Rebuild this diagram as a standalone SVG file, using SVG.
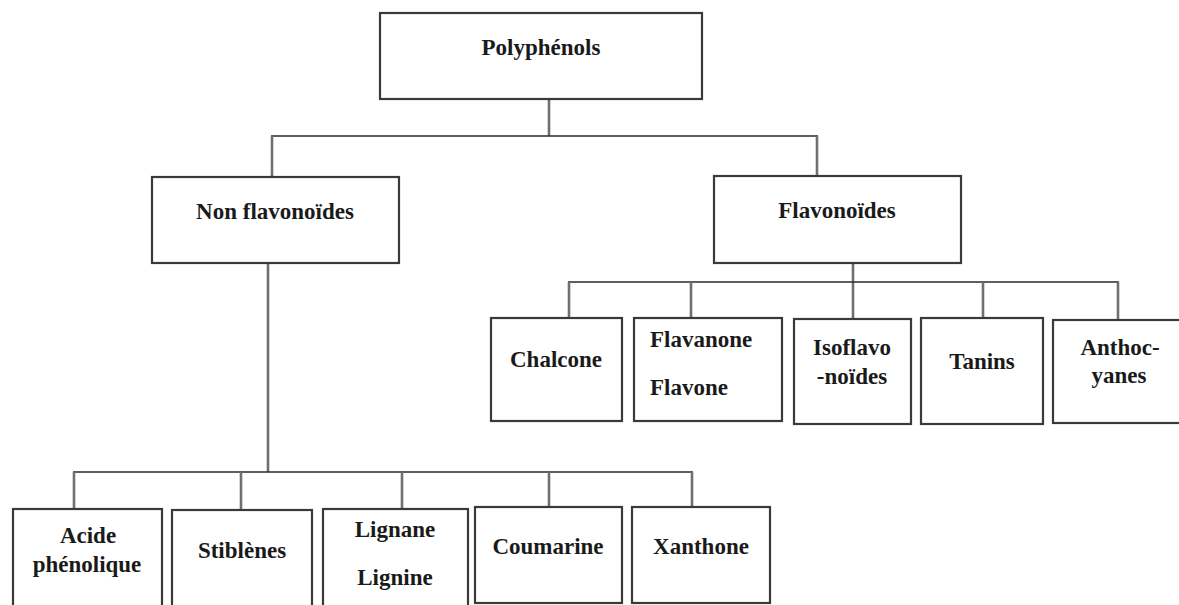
<svg xmlns="http://www.w3.org/2000/svg" width="1179" height="605" viewBox="0 0 1179 605">
<style>
.box{fill:#fff;stroke:#3a3a3a;stroke-width:2.2}
.h{stroke:#2a2a2a;stroke-width:1.6;fill:none}
.v{stroke:#707070;stroke-width:2.6;fill:none}
text{font-family:"Liberation Serif","Times New Roman",serif;font-weight:bold;font-size:23px;fill:#1a1a1a;text-anchor:middle}
</style>
<rect width="1179" height="605" fill="#fff"/>
<g id="connectors">
<line class="v" x1="549" y1="99" x2="549" y2="136"/>
<line class="h" x1="271" y1="136" x2="818" y2="136"/>
<line class="v" x1="272" y1="136" x2="272" y2="177"/>
<line class="v" x1="817" y1="136" x2="817" y2="176"/>
<line class="v" x1="268" y1="263" x2="268" y2="472"/>
<line class="h" x1="73" y1="472" x2="693" y2="472"/>
<line class="v" x1="74" y1="472" x2="74" y2="509"/>
<line class="v" x1="241" y1="472" x2="241" y2="510"/>
<line class="v" x1="402" y1="472" x2="402" y2="509"/>
<line class="v" x1="549" y1="472" x2="549" y2="507"/>
<line class="v" x1="692" y1="472" x2="692" y2="507"/>
<line class="v" x1="853" y1="263" x2="853" y2="319"/>
<line class="h" x1="568" y1="282" x2="1119" y2="282"/>
<line class="v" x1="569" y1="282" x2="569" y2="318"/>
<line class="v" x1="691" y1="282" x2="691" y2="318"/>
<line class="v" x1="983" y1="282" x2="983" y2="318"/>
<line class="v" x1="1118" y1="282" x2="1118" y2="320"/>
</g>
<g id="polyphenols"><rect class="box" x="380" y="13" width="322" height="86"/><text x="541" y="55">Polyphénols</text></g>
<g id="non-flavonoides"><rect class="box" x="152" y="177" width="247" height="86"/><text x="275" y="219">Non flavonoïdes</text></g>
<g id="flavonoides"><rect class="box" x="714" y="176" width="247" height="87"/><text x="837" y="218">Flavonoïdes</text></g>
<g id="chalcone"><rect class="box" x="491" y="318" width="131" height="103"/><text x="556" y="367">Chalcone</text></g>
<g id="flavanone"><rect class="box" x="634" y="318" width="148" height="103"/><text x="650" y="347" style="text-anchor:start">Flavanone</text><text x="650" y="395" style="text-anchor:start">Flavone</text></g>
<g id="isoflavonoides"><rect class="box" x="794" y="319" width="117" height="105"/><text x="852" y="355">Isoflavo</text><text x="852" y="384">-noïdes</text></g>
<g id="tanins"><rect class="box" x="921" y="318" width="122" height="106"/><text x="982" y="369">Tanins</text></g>
<g id="anthocyanes"><rect class="box" x="1053" y="320" width="130" height="103"/><text x="1120" y="355">Anthoc-</text><text x="1119" y="383">yanes</text></g>
<g id="acide-phenolique"><rect class="box" x="13" y="509" width="149" height="110"/><text x="88" y="543">Acide</text><text x="87" y="572">phénolique</text></g>
<g id="stiblenes"><rect class="box" x="172" y="510" width="140" height="110"/><text x="242" y="558">Stiblènes</text></g>
<g id="lignane"><rect class="box" x="323" y="509" width="145" height="110"/><text x="395" y="537">Lignane</text><text x="395" y="585">Lignine</text></g>
<g id="coumarine"><rect class="box" x="475" y="507" width="147" height="96"/><text x="548" y="554">Coumarine</text></g>
<g id="xanthone"><rect class="box" x="632" y="507" width="138" height="96"/><text x="701" y="554">Xanthone</text></g>
</svg>
